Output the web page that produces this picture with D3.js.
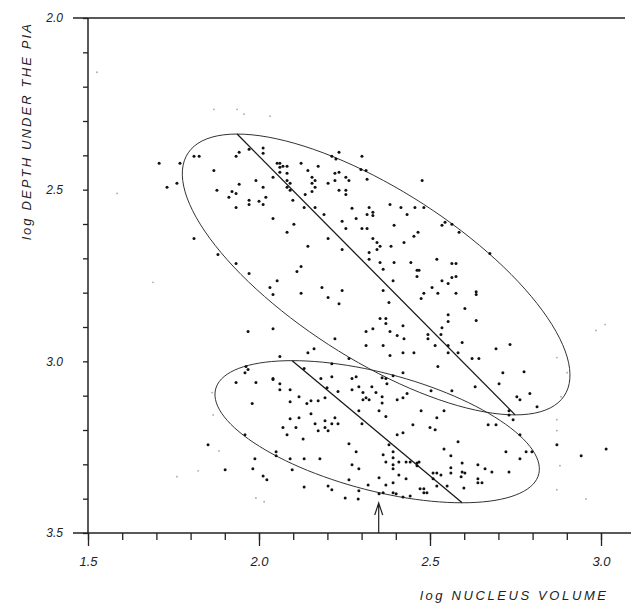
<!DOCTYPE html>
<html>
<head>
<meta charset="utf-8">
<script src="https://cdn.jsdelivr.net/npm/d3@7/dist/d3.min.js"></script>
<style>
	body { margin: 0; background: #fff; }
	text { font-family: "Liberation Sans", Arial, sans-serif; font-style: italic; fill: #222; }
</style>
</head>
<body>
<div id="chart"></div>
<script>
/*
// scatter of log nucleus volume against log depth under the pia
// two ellipses with their regression lines, arrow on the x axis
*/

const WIDTH = 631;
const HEIGHT = 604;
const DOT_COLOR = "#111";

// tick values
const xTicks = [1.5, 1.6, 1.7, 1.8, 1.9, 2.0, 2.1, 2.2, 2.3, 2.4, 2.5, 2.6, 2.7, 2.8, 2.9, 3.0];
const xLabels = [1.5, 2.0, 2.5, 3.0];
const yTicks = [2.0, 2.1, 2.2, 2.3, 2.4, 2.5, 2.6, 2.7, 2.8, 2.9, 3.0, 3.1, 3.2, 3.3, 3.4, 3.5];
const yLabels = [2.0, 2.5, 3.0, 3.5];

// axis titles
const xTitle = "log  NUCLEUS  VOLUME";
const yTitle = "log  DEPTH  UNDER  THE  PIA";

// ellipses: [top x, top y, bottom x, bottom y, horizontal half width]
const ellipses = [
	[1.936, 2.338, 2.749, 3.156, 0.395],
	[2.097, 2.998, 2.594, 3.412, 0.404]
];

// arrow on the x axis
const arrowX = 2.35;

// points, [log nucleus volume, log depth]
const points = [
	[1.708,2.423],[1.731,2.493],[1.760,2.481],[1.769,2.423],[1.810,2.403],[1.825,2.403],[1.868,2.444],[1.877,2.502],
	[1.912,2.522],[1.921,2.505],[1.933,2.511],[1.933,2.552],[1.933,2.403],[1.942,2.391],[1.942,2.484],[1.971,2.531],
	[1.971,2.543],[1.971,2.382],[1.991,2.473],[2.000,2.534],[2.012,2.379],[2.012,2.394],[2.012,2.493],[2.012,2.543],
	[2.020,2.522],[2.041,2.464],[2.041,2.584],[2.053,2.423],[2.061,2.423],[2.061,2.435],[2.070,2.432],[2.082,2.432],
	[2.061,2.449],[2.082,2.452],[2.082,2.473],[2.091,2.481],[2.082,2.493],[2.091,2.502],[2.099,2.531],[2.102,2.601],
	[2.082,2.624],[1.810,2.642],
	[2.123,2.423],[2.143,2.444],[2.173,2.432],[2.155,2.464],[2.164,2.473],[2.155,2.481],[2.164,2.493],[2.155,2.505],
	[2.135,2.514],[2.132,2.552],[2.164,2.552],[2.190,2.572],[2.202,2.481],[2.213,2.403],[2.225,2.411],[2.234,2.391],
	[2.222,2.452],[2.234,2.449],[2.222,2.473],[2.254,2.464],[2.263,2.473],[2.234,2.502],[2.254,2.502],[2.254,2.514],
	[2.301,2.403],[2.298,2.441],[2.313,2.444],[2.316,2.470],[2.272,2.554],[2.284,2.584],[2.322,2.552],[2.316,2.572],
	[2.333,2.566],[2.333,2.575],[2.243,2.592],[2.254,2.613],[2.301,2.613],[2.316,2.613],[2.333,2.642],[2.202,2.642],
	[2.383,2.543],[2.395,2.604],[2.415,2.552],[2.433,2.572],[2.456,2.552],[2.482,2.552],[2.477,2.473],[2.453,2.636],
	[2.465,2.624],[2.535,2.604],[2.544,2.595],[2.564,2.601],[2.585,2.624],
	[1.880,2.689],[1.933,2.715],[1.971,2.744],[2.032,2.785],[2.041,2.805],[2.053,2.765],[2.111,2.738],[1.968,2.913],
	[2.041,2.905],[2.061,2.986],[1.962,3.015],[1.968,3.024],[1.959,3.033],[2.041,3.050],
	[2.143,2.665],[2.243,2.674],[2.123,2.724],[2.123,2.802],[2.184,2.785],[2.202,2.814],[2.243,2.794],[2.234,2.832],
	[2.222,2.934],[2.143,2.975],[2.161,2.963],[2.345,2.654],[2.354,2.665],[2.345,2.674],[2.386,2.665],[2.424,2.654],
	[2.322,2.683],[2.322,2.703],[2.354,2.712],[2.363,2.732],[2.395,2.712],[2.444,2.712],[2.392,2.765],[2.363,2.794],
	[2.380,2.829],[2.462,2.735],[2.468,2.735],[2.462,2.753],[2.520,2.703],[2.564,2.715],[2.576,2.715],[2.535,2.765],
	[2.553,2.773],[2.564,2.756],[2.576,2.753],[2.506,2.785],[2.482,2.802],[2.474,2.817],[2.523,2.802],[2.576,2.802],
	[2.354,2.875],[2.371,2.875],[2.371,2.890],[2.333,2.905],[2.313,2.913],[2.383,2.913],[2.404,2.925],[2.424,2.934],
	[2.421,2.896],[2.494,2.922],[2.494,2.934],[2.532,2.922],[2.535,2.902],[2.553,2.864],[2.553,2.884],[2.313,2.954],
	[2.363,2.954],[2.383,2.983],[2.421,2.975],[2.453,2.975],[2.515,2.954],[2.553,2.954],[2.553,2.975],[2.582,2.975],
	[2.523,3.015],[2.263,2.992],[2.213,3.007],[2.132,3.021],[2.213,3.045],[2.181,3.050],[2.272,3.050],[2.284,3.045],
	[2.360,3.048],[2.371,3.050],[2.392,3.042],[2.421,3.033],
	[2.675,2.686],[2.635,2.797],[2.635,2.805],[2.602,2.846],[2.635,2.881],[2.594,2.945],[2.693,2.963],[2.734,2.951],
	[2.623,2.992],[2.643,2.992],[2.713,3.033],[2.775,3.030],[2.702,3.065],[2.632,3.074],[2.792,3.094],[2.754,3.103],
	[2.763,3.112],[2.813,3.132],[2.731,3.144],[2.731,3.156],[2.743,3.170],
	[1.933,3.062],[1.991,3.062],[2.041,3.053],[2.061,3.065],[2.061,3.083],[2.091,3.083],[2.117,3.103],[2.091,3.118],
	[1.980,3.123],[2.091,3.167],[2.117,3.164],[2.070,3.193],[2.108,3.193],[2.082,3.214],[1.959,3.214],[1.851,3.243],
	[2.050,3.263],[2.050,3.275],[1.988,3.284],[2.091,3.284],[2.097,3.316],[1.901,3.316],[1.982,3.313],[2.012,3.334],
	[2.023,3.345],
	[2.199,3.077],[2.231,3.088],[2.272,3.083],[2.292,3.074],[2.330,3.074],[2.304,3.091],[2.342,3.091],[2.304,3.112],
	[2.313,3.106],[2.322,3.112],[2.360,3.103],[2.360,3.121],[2.351,3.144],[2.371,3.161],[2.404,3.112],[2.421,3.106],
	[2.433,3.094],[2.374,3.065],[2.503,3.086],[2.564,3.086],[2.474,3.144],[2.541,3.144],[2.520,3.164],[2.450,3.185],
	[2.500,3.193],[2.515,3.199],[2.421,3.208],[2.404,3.214],[2.582,3.234],[2.541,3.255],[2.561,3.275],[2.561,3.310],
	[2.561,3.325],[2.380,3.243],[2.363,3.272],[2.392,3.263],[2.392,3.281],[2.371,3.293],[2.392,3.301],[2.392,3.313],
	[2.409,3.293],[2.430,3.293],[2.442,3.293],[2.462,3.296],[2.468,3.293],[2.462,3.304],[2.409,3.331],[2.430,3.342],
	[2.392,3.354],[2.371,3.360],[2.351,3.339],[2.319,3.360],[2.509,3.325],[2.520,3.325],[2.532,3.331],[2.509,3.342],
	[2.520,3.363],[2.550,3.363],[2.471,3.371],[2.482,3.371],[2.482,3.383],[2.491,3.383],[2.442,3.392],[2.421,3.395],
	[2.401,3.386],[2.392,3.383],[2.363,3.383],[2.292,3.377],[2.290,3.401],[2.252,3.398],[2.213,3.374],[2.202,3.363],
	[2.263,3.345],[2.132,3.366],[2.132,3.284],[2.178,3.284],[2.129,3.226],[2.263,3.240],[2.284,3.263],[2.272,3.301],
	[2.292,3.313],[2.140,3.123],[2.152,3.115],[2.173,3.115],[2.193,3.106],[2.152,3.153],[2.193,3.173],[2.193,3.193],
	[2.202,3.202],[2.173,3.202],[2.164,3.182],[2.213,3.182],[2.222,3.164],[2.231,3.182],[2.301,3.182],[2.292,3.144],
	[2.351,3.386],
	[2.670,3.185],[2.693,3.185],[2.763,3.214],[2.722,3.263],[2.781,3.263],[2.798,3.263],[2.763,3.284],[2.731,3.322],
	[2.681,3.322],[2.661,3.313],[2.640,3.301],[2.594,3.296],[2.594,3.322],[2.602,3.325],[2.591,3.336],[2.640,3.342],
	[2.640,3.354],[2.652,3.354],[2.599,3.369],[2.871,3.243],[2.942,3.275],[3.015,3.255]
];

// light specks, printed fainter
const faintPoints = [
	[1.526,2.158],[1.585,2.511],[1.690,2.770],[1.868,2.266],[1.936,2.266],[1.956,2.280],[2.032,2.286],[2.985,2.910],
	[3.012,2.893],[2.871,2.989],[2.901,3.033],[2.883,3.103],[1.863,3.091],[1.866,3.156],[1.883,3.261],[1.822,3.319],
	[1.760,3.336],[1.991,3.398],[2.015,3.409],[2.871,3.170],[2.871,3.202],[2.880,3.304],[2.871,3.374],[2.956,3.401]
];


const svg = d3.select("#chart")
			  .append("svg")
			  .attr("width", WIDTH)
			  .attr("height", HEIGHT);

const x = d3.scaleLinear().domain([1.5, 3.0]).range([88, 601]);
const y = d3.scaleLinear().domain([2.0, 3.5]).range([18, 533]);

// frame lines: top edge and bottom edge run past the axis
svg.append("line")
   .attr("x1", 73).attr("x2", 625)
   .attr("y1", y(2.0)).attr("y2", y(2.0))
   .attr("stroke", "#222").attr("stroke-width", 1.3);

svg.append("line")
   .attr("x1", 73).attr("x2", WIDTH)
   .attr("y1", y(3.5)).attr("y2", y(3.5))
   .attr("stroke", "#222").attr("stroke-width", 1.5);

svg.append("line")
   .attr("x1", x(1.5)).attr("x2", x(1.5))
   .attr("y1", y(2.0)).attr("y2", y(3.5))
   .attr("stroke", "#222").attr("stroke-width", 1.5);

// x axis, minor then major ticks
const xMinor = svg.append("g")
				  .attr("transform", "translate(0," + y(3.5) + ")")
				  .call(d3.axisBottom(x).tickValues(xTicks).tickSize(7).tickFormat(""));

const xMajor = svg.append("g")
				  .attr("transform", "translate(0," + y(3.5) + ")")
				  .call(d3.axisBottom(x).tickValues(xLabels).tickSize(13).tickPadding(11).tickFormat(d3.format(".1f")));

// y axis
const yMinor = svg.append("g")
				  .attr("transform", "translate(" + x(1.5) + ",0)")
				  .call(d3.axisLeft(y).tickValues(yTicks).tickSize(5).tickFormat(""));

const yMajor = svg.append("g")
				  .attr("transform", "translate(" + x(1.5) + ",0)")
				  .call(d3.axisLeft(y).tickValues(yLabels).tickSize(0).tickPadding(25).tickFormat(d3.format(".1f")));

[xMinor, xMajor, yMinor, yMajor].forEach(function(g) {
	g.select(".domain").remove();
	g.selectAll(".tick line").attr("stroke", "#222").attr("stroke-width", 1.3);
	g.selectAll(".tick text")
	 .attr("fill", "#222")
	 .style("font-family", "'Liberation Sans', Arial, sans-serif")
	 .style("font-style", "italic");
});
xMajor.selectAll(".tick text").style("font-size", "13px");
yMajor.selectAll(".tick text").style("font-size", "12px");

// axis titles
svg.append("text")
   .attr("x", 420)
   .attr("y", 600)
   .attr("textLength", 186)
   .attr("lengthAdjust", "spacing")
   .style("font-size", "13px")
   .text(xTitle);

svg.append("text")
   .attr("transform", "translate(31,240) rotate(-90)")
   .attr("textLength", 216)
   .attr("lengthAdjust", "spacing")
   .style("font-size", "13px")
   .text(yTitle);

// ellipses, from the conjugate half diameters (to the top point, and horizontal)
const line = d3.line().x(function(d) { return x(d[0]); }).y(function(d) { return y(d[1]); });

ellipses.forEach(function(e) {
	const cx = (e[0] + e[2]) / 2;
	const cy = (e[1] + e[3]) / 2;
	const ux = e[0] - cx;
	const uy = e[1] - cy;
	const outline = d3.range(0, 361, 3).map(function(a) {
		const t = a * Math.PI / 180;
		return [cx + ux * Math.cos(t) + e[4] * Math.sin(t), cy + uy * Math.cos(t)];
	});

	svg.append("path")
	   .attr("d", line(outline))
	   .attr("fill", "none")
	   .attr("stroke", "#333")
	   .attr("stroke-width", 1);

	svg.append("path")
	   .attr("d", line([[e[0], e[1]], [e[2], e[3]]]))
	   .attr("fill", "none")
	   .attr("stroke", "#1a1a1a")
	   .attr("stroke-width", 1.3);
});

// points
svg.append("g")
   .selectAll("circle")
   .data(faintPoints)
   .join("circle")
   .attr("cx", function(d) { return x(d[0]); })
   .attr("cy", function(d) { return y(d[1]); })
   .attr("r", 0.9)
   .attr("fill", "#aaa");

svg.append("g")
   .selectAll("circle")
   .data(points)
   .join("circle")
   .attr("cx", function(d) { return x(d[0]); })
   .attr("cy", function(d) { return y(d[1]); })
   .attr("r", 1.5)
   .attr("fill", DOT_COLOR);

// arrow pointing up from the x axis
const ax = x(arrowX);
const tip = y(3.5) - 30;
svg.append("path")
   .attr("d", "M" + ax + "," + y(3.5) + "V" + tip + "M" + (ax - 4) + "," + (tip + 12) + "L" + ax + "," + tip + "L" + (ax + 4) + "," + (tip + 12))
   .attr("fill", "none")
   .attr("stroke", "#222")
   .attr("stroke-width", 1.2);
</script>
</body>
</html>
